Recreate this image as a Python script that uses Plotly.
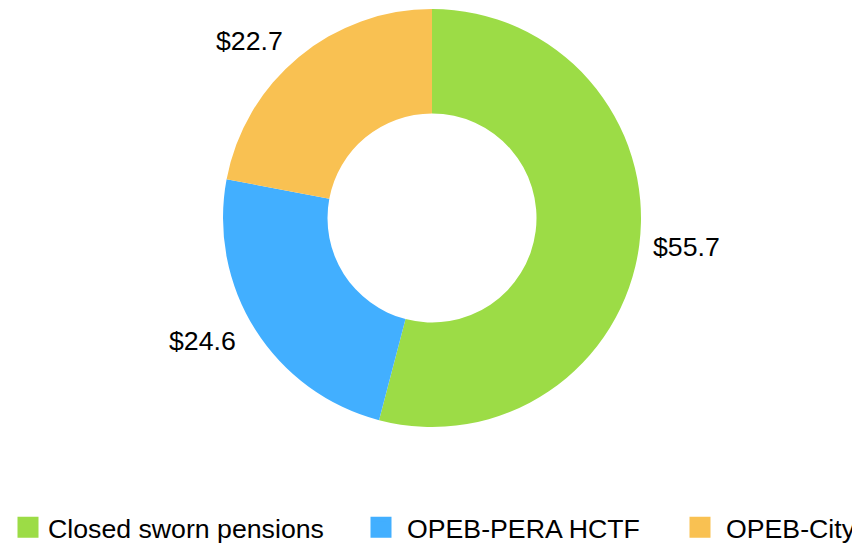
import math
import plotly.graph_objects as go

categories = ["Closed sworn pensions", "OPEB-PERA HCTF", "OPEB-City"]
values = [55.7, 24.6, 22.7]
colors = ["#9CDC46", "#42AFFF", "#F9C152"]

# the page body adds 8px around the figure, so everything sits 8px right and down
W, H = 860, 536
margin = dict(l=0, r=12, t=1, b=117)
plot_w = W - margin["l"] - margin["r"]
plot_h = H - margin["t"] - margin["b"]
label_r = 230  # px from centre, a little outside the ring
FONT = 26.7

fig = go.Figure(go.Pie(
    labels=categories,
    values=values,
    hole=0.5,
    sort=False,
    direction="clockwise",
    rotation=0,
    marker=dict(colors=colors, line=dict(width=0)),
    textinfo="none",
    hoverinfo="label+value",
    showlegend=False,
))

# value labels outside the ring, at each slice's mid angle
total = sum(values)
cum = 0
for v in values:
    mid = (cum + v / 2) / total * 2 * math.pi
    cum += v
    dx = label_r * math.sin(mid)
    dy = label_r * math.cos(mid)
    right = dx >= 0
    fig.add_annotation(
        x=0.5 + dx / plot_w, y=0.5 + dy / plot_h,
        xref="paper", yref="paper",
        text=f"${v}", showarrow=False,
        xanchor="left" if right else "right", yanchor="middle",
        xshift=-9 if right else 0,
        font=dict(size=FONT, color="#000000"),
    )

# legend: one entry per category, each in its own legend box so the gaps match
legend_x = [15, 373, 692]   # icon centres, px
item_w = [30, 42, 42]
legend_names = ["legend", "legend2", "legend3"]
for name, color, lg, lx, iw in zip(categories, colors, legend_names, legend_x, item_w):
    fig.add_trace(go.Scatter(
        x=[None], y=[None], mode="markers", name=name, legend=lg,
        marker=dict(symbol="square", size=16, color=color, line=dict(width=5, color=color)),
        hoverinfo="skip",
    ))
    fig.update_layout({lg: dict(
        orientation="h", xref="paper", x=max(lx - (iw + 10) / 2, 0) / plot_w, xanchor="left",
        yref="container", y=1 - 519.5 / H, yanchor="middle",
        itemwidth=iw, font=dict(size=FONT), bgcolor="rgba(0,0,0,0)",
    )})

fig.update_layout(
    width=W, height=H,
    margin=margin,
    paper_bgcolor="white",
    plot_bgcolor="white",
    font=dict(family="Liberation Sans, Arial, sans-serif", size=FONT, color="#000000"),
    xaxis=dict(visible=False),
    yaxis=dict(visible=False),
)
fig.write_html("out.html")
